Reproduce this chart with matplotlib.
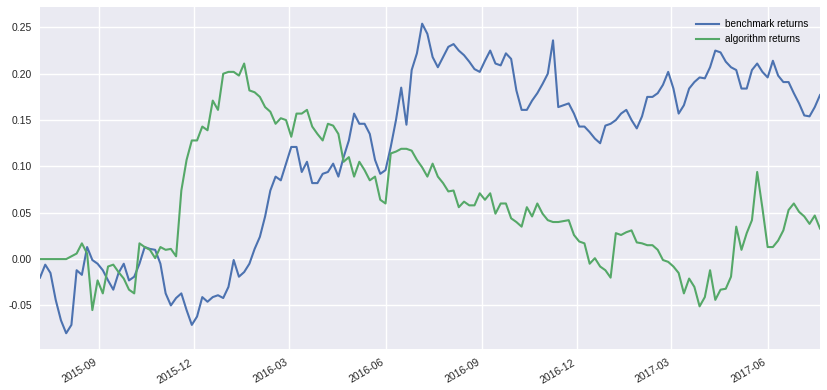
import matplotlib
matplotlib.use("Agg")
import matplotlib.pyplot as plt
import matplotlib.dates as mdates
import pandas as pd

start_date = "2015-07-07"
n_points = 150
step = "5D"

benchmark = [
    -0.020, -0.006, -0.015, -0.044, -0.066, -0.080, -0.071, -0.012, -0.017, 0.013,
    -0.001, -0.005, -0.012, -0.023, -0.033, -0.015, -0.005, -0.023, -0.019, -0.005,
    0.013, 0.011, 0.010, -0.005, -0.037, -0.050, -0.042, -0.037, -0.055, -0.071,
    -0.062, -0.041, -0.046, -0.041, -0.039, -0.042, -0.030, -0.001, -0.019, -0.014,
    -0.005, 0.011, 0.024, 0.046, 0.074, 0.089, 0.085, 0.103, 0.121, 0.121,
    0.094, 0.105, 0.082, 0.082, 0.092, 0.094, 0.103, 0.089, 0.110, 0.128,
    0.157, 0.146, 0.146, 0.135, 0.107, 0.092, 0.096, 0.121, 0.150, 0.185,
    0.145, 0.204, 0.222, 0.254, 0.243, 0.218, 0.207, 0.218, 0.229, 0.232,
    0.225, 0.220, 0.213, 0.205, 0.202, 0.214, 0.225, 0.211, 0.209, 0.222,
    0.216, 0.182, 0.161, 0.161, 0.171, 0.179, 0.189, 0.200, 0.236, 0.164,
    0.166, 0.168, 0.157, 0.143, 0.143, 0.137, 0.130, 0.125, 0.144, 0.146,
    0.150, 0.157, 0.161, 0.150, 0.141, 0.154, 0.175, 0.175, 0.179, 0.188,
    0.202, 0.184, 0.157, 0.166, 0.184, 0.191, 0.196, 0.195, 0.207, 0.225,
    0.223, 0.213, 0.207, 0.204, 0.184, 0.184, 0.204, 0.211, 0.202, 0.196,
    0.214, 0.198, 0.191, 0.191, 0.179, 0.168, 0.155, 0.154, 0.164, 0.177,
]

algorithm = [
    0.000, 0.000, 0.000, 0.000, 0.000, 0.000, 0.003, 0.006, 0.017, 0.006,
    -0.055, -0.023, -0.037, -0.008, -0.006, -0.014, -0.021, -0.033, -0.037, 0.017,
    0.013, 0.010, 0.001, 0.013, 0.010, 0.011, 0.003, 0.074, 0.107, 0.128,
    0.128, 0.143, 0.139, 0.171, 0.161, 0.200, 0.202, 0.202, 0.198, 0.211,
    0.182, 0.180, 0.175, 0.164, 0.159, 0.146, 0.152, 0.150, 0.132, 0.157,
    0.157, 0.161, 0.143, 0.135, 0.128, 0.146, 0.144, 0.135, 0.105, 0.110,
    0.089, 0.105, 0.096, 0.085, 0.089, 0.064, 0.060, 0.114, 0.116, 0.119,
    0.119, 0.117, 0.107, 0.099, 0.089, 0.103, 0.089, 0.082, 0.073, 0.074,
    0.056, 0.062, 0.058, 0.058, 0.071, 0.064, 0.071, 0.049, 0.060, 0.060,
    0.044, 0.040, 0.035, 0.056, 0.046, 0.060, 0.049, 0.042, 0.040, 0.040,
    0.041, 0.042, 0.026, 0.019, 0.017, -0.005, 0.001, -0.008, -0.012, -0.020,
    0.028, 0.026, 0.029, 0.031, 0.018, 0.017, 0.015, 0.015, 0.010, -0.001,
    -0.003, -0.008, -0.015, -0.037, -0.021, -0.030, -0.051, -0.041, -0.012, -0.044,
    -0.033, -0.032, -0.019, 0.035, 0.010, 0.028, 0.042, 0.094, 0.055, 0.013,
    0.013, 0.020, 0.031, 0.053, 0.060, 0.051, 0.046, 0.038, 0.047, 0.033,
]

labels = ["benchmark returns", "algorithm returns"]
colors = ["#4C72B0", "#55A868"]

dates = pd.date_range(start_date, periods=n_points, freq=step)

plt.rcParams["font.family"] = ["Liberation Sans", "DejaVu Sans"]
fig = plt.figure(figsize=(8.28, 3.90), dpi=100)
ax = fig.add_axes([40 / 828, 1 - 349 / 390, 780 / 828, 342 / 390])
ax.set_facecolor("#EAEAF2")
for s in ax.spines.values():
    s.set_visible(False)
ax.grid(True, color="white", linewidth=1.0)
ax.set_axisbelow(True)

ax.plot(dates, benchmark, color=colors[0], linewidth=1.5, label=labels[0])
ax.plot(dates, algorithm, color=colors[1], linewidth=1.5, label=labels[1])

ax.set_xlim(dates[0], dates[-1])
ax.set_ylim(-0.097, 0.272)
ax.set_yticks([-0.05, 0.0, 0.05, 0.10, 0.15, 0.20, 0.25])
ax.yaxis.set_major_formatter(matplotlib.ticker.FormatStrFormatter("%.2f"))
ax.xaxis.set_major_locator(mdates.MonthLocator(bymonth=[3, 6, 9, 12]))
ax.xaxis.set_major_formatter(mdates.DateFormatter("%Y-%m"))
ax.tick_params(axis="both", length=0, labelsize=7.5, colors="#262626", pad=6)
for lbl in ax.get_xticklabels():
    lbl.set_rotation(30)
    lbl.set_ha("right")

ax.legend(loc="upper right", frameon=False, fontsize=7.2, handlelength=2.3,
          handletextpad=0.6, borderaxespad=0.8)

fig.savefig("out.png", dpi=100)
